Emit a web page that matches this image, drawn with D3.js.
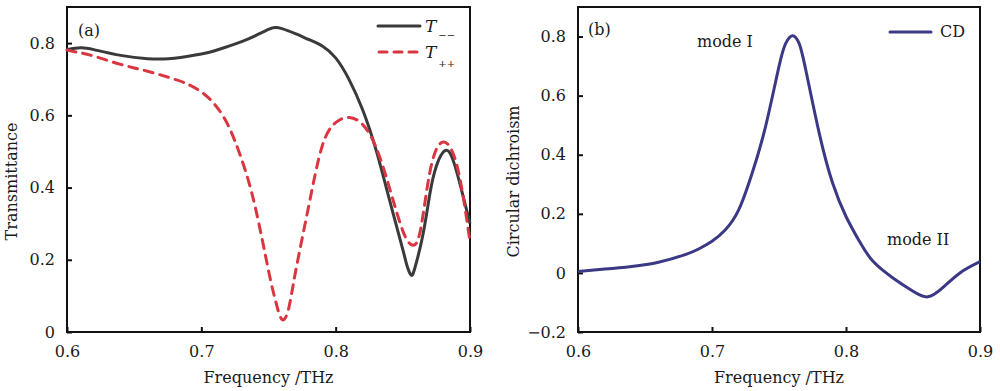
<!DOCTYPE html>
<html>
<head>
<meta charset="utf-8">
<script src="https://cdn.jsdelivr.net/npm/d3@7"></script>
<style>
  body { margin: 0; background: #fff; }
  svg text { font-family: "DejaVu Serif", serif; fill: #1a1a1a; }
</style>
</head>
<body>
<svg id="chart" width="1000" height="391"></svg>
<script>
// values
let freqA = [0.60, 0.61, 0.62, 0.64, 0.66, 0.67, 0.68, 0.70, 0.71, 0.72, 0.73, 0.74, 0.75, 0.755, 0.76, 0.77, 0.78, 0.79, 0.80, 0.81, 0.82, 0.83, 0.84, 0.85, 0.853, 0.856, 0.859, 0.865, 0.87, 0.875, 0.8825, 0.89, 0.90];
let tMinus = [0.782, 0.787, 0.782, 0.766, 0.757, 0.756, 0.758, 0.770, 0.779, 0.791, 0.804, 0.820, 0.838, 0.843, 0.840, 0.826, 0.810, 0.792, 0.759, 0.699, 0.616, 0.505, 0.367, 0.228, 0.185, 0.158, 0.178, 0.270, 0.380, 0.460, 0.503, 0.445, 0.300];

let freqP = [0.60, 0.61, 0.62, 0.64, 0.66, 0.68, 0.69, 0.70, 0.71, 0.72, 0.73, 0.74, 0.75, 0.755, 0.76, 0.765, 0.77, 0.78, 0.79, 0.80, 0.81, 0.82, 0.83, 0.84, 0.85, 0.857, 0.863, 0.87, 0.879, 0.89, 0.90];
let tPlus = [0.781, 0.773, 0.764, 0.741, 0.722, 0.700, 0.686, 0.665, 0.630, 0.572, 0.478, 0.348, 0.170, 0.090, 0.035, 0.065, 0.164, 0.350, 0.515, 0.580, 0.594, 0.575, 0.512, 0.400, 0.280, 0.241, 0.280, 0.440, 0.525, 0.465, 0.250];

let freqB = [0.60, 0.62, 0.64, 0.66, 0.68, 0.69, 0.70, 0.71, 0.72, 0.73, 0.74, 0.75, 0.755, 0.76, 0.765, 0.77, 0.78, 0.79, 0.80, 0.81, 0.82, 0.835, 0.85, 0.861, 0.872, 0.885, 0.90];
let cd = [0.005, 0.013, 0.022, 0.036, 0.062, 0.081, 0.107, 0.146, 0.214, 0.338, 0.496, 0.699, 0.777, 0.803, 0.777, 0.687, 0.473, 0.304, 0.191, 0.107, 0.040, -0.017, -0.062, -0.081, -0.051, 0.000, 0.038];

let xTicks = [0.6, 0.7, 0.8, 0.9];
let yTicksA = [0, 0.2, 0.4, 0.6, 0.8];
let yTicksB = [-0.2, 0, 0.2, 0.4, 0.6, 0.8];

let svg = d3.select('#chart');

function fmt(v) {
    if (v === 0) return '0';
    return d3.format('.1f')(v).replace('-', '\u2212');
}

function makePanel(box, yDomain, yTicks, yTitle, yTitleX) {
    let g = svg.append('g')
        .attr('transform', `translate(${box.left}, ${box.top})`);
    let w = box.right - box.left,
        h = box.bottom - box.top;

    let x = d3.scaleLinear().domain([0.6, 0.9]).range([0, w]);
    let y = d3.scaleLinear().domain(yDomain).range([h, 0]);

    let xAxis = g.append('g')
        .attr('transform', `translate(0, ${h})`)
        .call(d3.axisBottom(x).tickValues(xTicks).tickSize(-5).tickPadding(14).tickFormat(d3.format('.1f')));
    let yAxis = g.append('g')
        .call(d3.axisLeft(y).tickValues(yTicks).tickSize(-5).tickPadding(12).tickFormat(fmt));

    [xAxis, yAxis].forEach(a => {
        a.select('.domain').remove();
        a.selectAll('line').attr('stroke', '#111').attr('stroke-width', 2);
        a.selectAll('text').attr('font-size', 16).attr('font-family', '"DejaVu Serif", serif').attr('fill', '#1a1a1a');
    });

    g.append('rect')
        .attr('width', w)
        .attr('height', h)
        .attr('fill', 'none')
        .attr('stroke', '#111')
        .attr('stroke-width', 2);

    g.append('text')
        .attr('x', w / 2)
        .attr('y', h + 51)
        .attr('text-anchor', 'middle')
        .attr('font-size', 16)
        .text('Frequency /THz');

    g.append('text')
        .attr('transform', `translate(${yTitleX}, ${h / 2 + 12}) rotate(-90)`)
        .attr('text-anchor', 'middle')
        .attr('font-size', 16)
        .text(yTitle);

    return {g: g, x: x, y: y};
}

let pa = makePanel({left: 67, right: 470, top: 7, bottom: 332}, [0, 0.9], yTicksA, 'Transmittance', -50);
let pb = makePanel({left: 578, right: 980, top: 7, bottom: 332}, [-0.2, 0.9], yTicksB, 'Circular dichroism', -59);

function drawLine(p, xs, ys, color, dash) {
    let line = d3.line()
        .x(d => p.x(d[0]))
        .y(d => p.y(d[1]))
        .curve(d3.curveNatural);
    p.g.append('path')
        .datum(d3.zip(xs, ys))
        .attr('d', line)
        .attr('fill', 'none')
        .attr('stroke', color)
        .attr('stroke-width', 3)
        .attr('stroke-dasharray', dash)
        .attr('stroke-linecap', dash ? 'round' : 'butt');
}

drawLine(pa, freqA, tMinus, '#3a3a3a', null);
drawLine(pa, freqP, tPlus, '#d93641', '9,7');
drawLine(pb, freqB, cd, '#3b3886', null);

// legend (a)
pa.g.append('line').attr('x1', 311).attr('x2', 353).attr('y1', 19).attr('y2', 19)
    .attr('stroke', '#3a3a3a').attr('stroke-width', 3).attr('stroke-linecap', 'round');
pa.g.append('line').attr('x1', 312).attr('x2', 353).attr('y1', 45).attr('y2', 45)
    .attr('stroke', '#d93641').attr('stroke-width', 3).attr('stroke-dasharray', '8,7').attr('stroke-linecap', 'round');
let la = pa.g.append('text').attr('x', 358).attr('y', 25).attr('font-size', 17);
la.append('tspan').attr('font-style', 'italic').text('T');
la.append('tspan').attr('font-size', 10).attr('dy', 7).attr('dx', 2).text('\u2212\u2212');
let lb = pa.g.append('text').attr('x', 358).attr('y', 51).attr('font-size', 17);
lb.append('tspan').attr('font-style', 'italic').text('T');
lb.append('tspan').attr('font-size', 10).attr('dy', 9).attr('dx', 2).text('++');

pa.g.append('text').attr('x', 11).attr('y', 29).attr('font-size', 16).text('(a)');

// legend (b)
pb.g.append('line').attr('x1', 312).attr('x2', 353).attr('y1', 25).attr('y2', 25)
    .attr('stroke', '#3b3886').attr('stroke-width', 3).attr('stroke-linecap', 'round');
pb.g.append('text').attr('x', 362).attr('y', 30).attr('font-size', 16).text('CD');

pb.g.append('text').attr('x', 10).attr('y', 28).attr('font-size', 16).text('(b)');
pb.g.append('text').attr('x', 119).attr('y', 40).attr('font-size', 16).text('mode I');
pb.g.append('text').attr('x', 309).attr('y', 238).attr('font-size', 16).text('mode II');
</script>
</body>
</html>
